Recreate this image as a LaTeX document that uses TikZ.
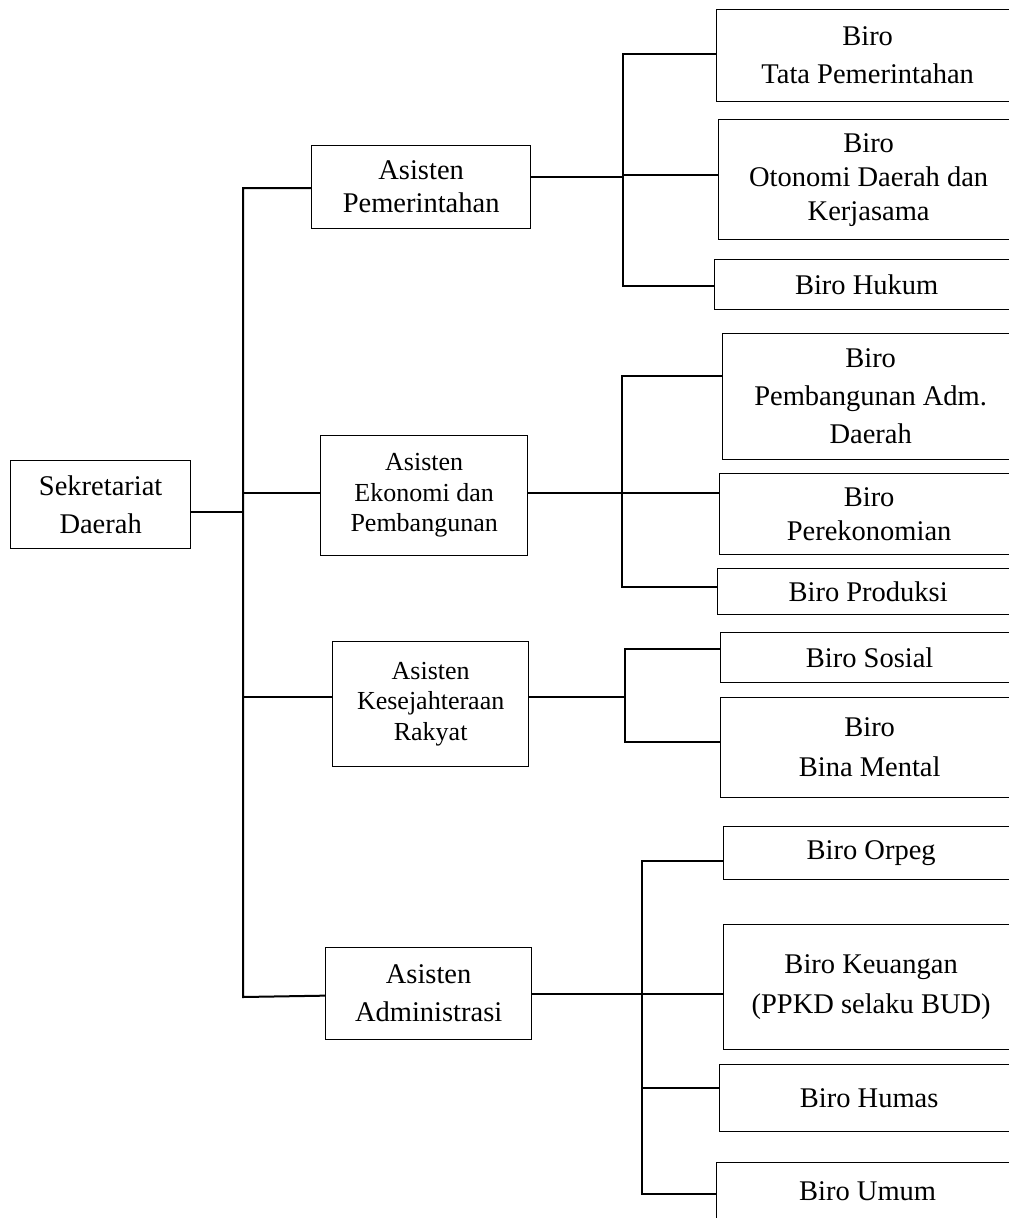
\documentclass[tikz,border=0pt]{standalone}
\usepackage{fontspec}
\setmainfont{Liberation Serif}
\begin{document}
\begin{tikzpicture}[x=1pt,y=-1pt,
  box/.style={draw, line width=1.3pt, rectangle, inner sep=0pt, align=center, anchor=north west,
    font=\fontsize{28.5}{38}\selectfont},
  smallbox/.style={box, font=\fontsize{26}{30.5}\selectfont},
  conn/.style={line width=2pt}]
\useasboundingbox (0,0) rectangle (1009,1218);
% level 0
\node[box, minimum width=180, minimum height=88] (sek) at (10,460) {Sekretariat\\Daerah};
% level 1
\node[box, minimum width=219, minimum height=83, font=\fontsize{28.5}{33}\selectfont] (ap) at (311,145) {Asisten\\Pemerintahan};
\node[smallbox, minimum width=207, minimum height=120] (ae) at (320,435) {Asisten\\Ekonomi dan\\Pembangunan};
\node[smallbox, minimum width=196, minimum height=125] (ak) at (332,641) {Asisten\\Kesejahteraan\\Rakyat};
\node[box, minimum width=206, minimum height=92] (aa) at (325,947) {Asisten\\Administrasi};
% level 2
\node[box, minimum width=302, minimum height=92] (tata) at (716,9) {Biro\\Tata Pemerintahan};
\node[box, minimum width=300, minimum height=120, font=\fontsize{28.5}{34}\selectfont] (oto) at (718,119) {Biro\\Otonomi Daerah dan\\Kerjasama};
\node[box, minimum width=304, minimum height=50] (huk) at (714,259) {Biro Hukum};
\node[box, minimum width=296, minimum height=126] (pem) at (722,333) {Biro\\Pembangunan Adm.\\Daerah};
\node[box, minimum width=299, minimum height=81, font=\fontsize{28.5}{34}\selectfont] (eko) at (719,473) {Biro\\Perekonomian};
\node[box, minimum width=301, minimum height=46] (pro) at (717,568) {Biro Produksi};
\node[box, minimum width=298, minimum height=50] (sos) at (720,632) {Biro Sosial};
\node[box, minimum width=298, minimum height=100, font=\fontsize{28.5}{40}\selectfont] (bina) at (720,697) {Biro\\Bina Mental};
\node[box, minimum width=295, minimum height=53] (orp) at (723,826) {Biro Orpeg};
\node[box, minimum width=295, minimum height=125, font=\fontsize{28.5}{40}\selectfont] (keu) at (723,924) {Biro Keuangan\\(PPKD selaku BUD)};
\node[box, minimum width=299, minimum height=67] (hum) at (719,1064) {Biro Humas};
\node[box, minimum width=302, minimum height=58] (umu) at (716,1162) {Biro Umum};
% trunk
\coordinate (tx) at (243,0);
\coordinate (tb) at (243,997);
\draw[conn] ([yshift=-1]ap.west) -| (tb) -- ([yshift=-2]aa.west);
\draw[conn] ([yshift=-7]sek.east) -- ([yshift=-7]sek.east -| tx);
\draw[conn] ([yshift=3]ae.west) -- ([yshift=3]ae.west -| tx);
\draw[conn] ([yshift=7]ak.west) -- ([yshift=7]ak.west -| tx);
% group 1
\coordinate (g1) at (623,0);
\draw[conn] ([yshift=2]tata.west) -| ([yshift=-1]huk.west -| g1) -- ([yshift=-1]huk.west);
\draw[conn] ([yshift=5]oto.west) -- ([yshift=5]oto.west -| g1);
\draw[conn] ([yshift=10]ap.east) -- ([yshift=10]ap.east -| g1);
% group 2
\coordinate (g2) at (622,0);
\draw[conn] ([yshift=21]pem.west) -| ([yshift=5]pro.west -| g2) -- ([yshift=5]pro.west);
\draw[conn] ([yshift=3]ae.east) -- ([yshift=3]ae.east -| g2) -- ([yshift=3]ae.east -| eko.west);
% group 3
\coordinate (g3) at (625,0);
\draw[conn] ([yshift=9]sos.west) -| ([yshift=6]bina.west -| g3) -- ([yshift=6]bina.west);
\draw[conn] ([yshift=7]ak.east) -- ([yshift=7]ak.east -| g3);
% group 4
\coordinate (g4) at (642,0);
\draw[conn] ([yshift=-8]orp.west) -| ([yshift=-2]umu.west -| g4) -- ([yshift=-2]umu.west);
\draw[conn] (aa.east) -- (aa.east -| keu.west);
\draw[conn] ([yshift=10]hum.west) -- ([yshift=10]hum.west -| g4);
\end{tikzpicture}
\end{document}
